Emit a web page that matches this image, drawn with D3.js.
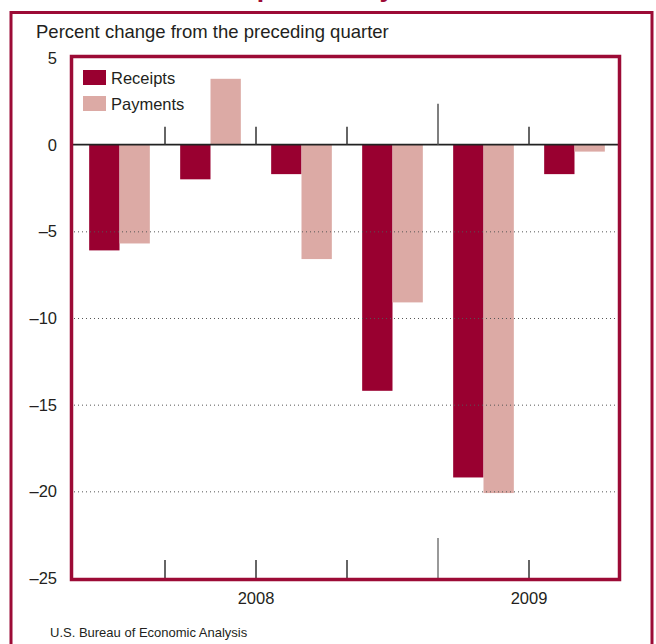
<!DOCTYPE html>
<html>
<head>
<meta charset="utf-8">
<script src="https://cdn.jsdelivr.net/npm/d3@7"></script>
<style>
  html, body { margin: 0; padding: 0; background: #fff; }
  svg { display: block; font-family: "Liberation Sans", Arial, Helvetica, sans-serif; }
</style>
</head>
<body>
<svg id="chart" width="656" height="644"></svg>
<script>
// Quarterly percent change in services receipts and payments
const quarters = ["2008 Q1", "2008 Q2", "2008 Q3", "2008 Q4", "2009 Q1", "2009 Q2"];
const seriesNames = ["Receipts", "Payments"];
const receipts = [-6.1, -2.0, -1.7, -14.2, -19.2, -1.7];
const payments = [-5.7, 3.8, -6.6, -9.1, -20.1, -0.4];
const yTicks = [5, 0, -5, -10, -15, -20, -25];
const years = [
  { label: "2008", first: "2008 Q1", last: "2008 Q4" },
  { label: "2009", first: "2009 Q1", last: "2009 Q2" }
];

const colors = { Receipts: "#990030", Payments: "#dcaaa5" };
const frameColor = "#9c0b36";
const svg = d3.select("#chart");

const plot = { left: 74, right: 620, top: 58, bottom: 578 };

const x = d3.scaleBand().domain(quarters).range([plot.left, plot.right]).paddingInner(0).paddingOuter(0);
const inner = d3.scaleBand().domain(seriesNames).range([0, x.bandwidth()]).paddingInner(0).paddingOuter(0.5);
const y = d3.scaleLinear().domain([-25, 5]).range([plot.bottom, plot.top]);

// Headline sits above the frame, only its descenders reach the page
const title = svg.append("text")
  .attr("x", 0).attr("y", 0)
  .attr("font-size", 24).attr("font-weight", "bold")
  .attr("fill", frameColor)
  .text("Services Trade Slumps Broadly");
{
  const node = title.node();
  const str = node.textContent;
  const ip = str.indexOf("p"), iy = str.lastIndexOf("y");
  const px = node.getExtentOfChar(ip), py = node.getExtentOfChar(iy);
  const d0 = (py.x + py.width / 2) - (px.x + px.width / 2);
  const fs = 24 * (387 - 265) / d0;
  title.attr("font-size", fs);
  const p2 = node.getExtentOfChar(ip);
  title.attr("x", 265 - (p2.x + p2.width / 2))
    .attr("y", 3 - 0.21 * fs);
}

// Outer frame
svg.append("rect")
  .attr("x", 11).attr("y", 12.5).attr("width", 641).attr("height", 660)
  .attr("fill", "none").attr("stroke", frameColor).attr("stroke-width", 3);

// Axis title
svg.append("text")
  .attr("x", 36).attr("y", 38)
  .attr("font-size", 18.5).attr("fill", "#231f20")
  .text("Percent change from the preceding quarter");

// Bars
const rows = quarters.map((q, i) => ({ q, Receipts: receipts[i], Payments: payments[i] }));
const groups = svg.append("g").selectAll("g").data(rows).join("g")
  .attr("transform", d => `translate(${x(d.q)},0)`);
groups.selectAll("rect")
  .data(d => seriesNames.map(k => ({ k, v: d[k] })))
  .join("rect")
  .attr("x", d => inner(d.k))
  .attr("width", inner.bandwidth())
  .attr("y", d => y(Math.max(0, d.v)))
  .attr("height", d => Math.abs(y(d.v) - y(0)))
  .attr("fill", d => colors[d.k]);

// Dotted gridlines
svg.append("g").selectAll("line")
  .data(yTicks.filter(t => t < 0 && t > -25))
  .join("line")
  .attr("x1", plot.left).attr("x2", plot.right - 2)
  .attr("y1", d => y(d) + 0.5).attr("y2", d => y(d) + 0.5)
  .attr("stroke", "#555").attr("stroke-width", 1)
  .attr("stroke-dasharray", "1,3");

// Zero line
svg.append("line")
  .attr("x1", plot.left - 2).attr("x2", plot.right)
  .attr("y1", y(0)).attr("y2", y(0))
  .attr("stroke", "#222").attr("stroke-width", 1.8);

// Quarter dividers (longer at the year boundary)
const boundaries = quarters.slice(1).map(q => ({ q, year: q.endsWith("Q1") }));
svg.append("g").selectAll("line")
  .data(boundaries).join("line")
  .attr("x1", d => x(d.q)).attr("x2", d => x(d.q))
  .attr("y1", d => y(0) - (d.year ? 41 : 18)).attr("y2", y(0))
  .attr("stroke", d => d.year ? "#555" : "#333").attr("stroke-width", 1.5);
svg.append("g").selectAll("line")
  .data(boundaries).join("line")
  .attr("x1", d => x(d.q)).attr("x2", d => x(d.q))
  .attr("y1", d => plot.bottom - (d.year ? 40 : 18)).attr("y2", plot.bottom)
  .attr("stroke", d => d.year ? "#777" : "#333").attr("stroke-width", 1.5);

// Plot frame
svg.append("rect")
  .attr("x", 71.5).attr("y", 56.5).attr("width", 548).attr("height", 523)
  .attr("fill", "none").attr("stroke", frameColor).attr("stroke-width", 3.5);

// Y axis labels
svg.append("g").selectAll("text")
  .data(yTicks).join("text")
  .attr("x", 57).attr("y", d => y(d) + 6)
  .attr("text-anchor", "end")
  .attr("font-size", 16.5).attr("fill", "#231f20")
  .text(d => d < 0 ? "\u2013" + Math.abs(d) : String(d));

// Year labels
svg.append("g").selectAll("text")
  .data(years).join("text")
  .attr("x", d => (x(d.first) + x(d.last) + x.bandwidth()) / 2)
  .attr("y", 604)
  .attr("text-anchor", "middle")
  .attr("font-size", 16.5).attr("fill", "#231f20")
  .text(d => d.label);

// Legend
const legend = svg.append("g").attr("transform", "translate(83,70)");
seriesNames.forEach((name, i) => {
  legend.append("rect")
    .attr("x", 0).attr("y", i * 26).attr("width", 23).attr("height", 15)
    .attr("fill", colors[name]);
  legend.append("text")
    .attr("x", 28).attr("y", i * 26 + 14)
    .attr("font-size", 16.5).attr("fill", "#231f20")
    .text(name);
});

// Source
svg.append("text")
  .attr("x", 50).attr("y", 637)
  .attr("font-size", 13).attr("fill", "#231f20")
  .text("U.S. Bureau of Economic Analysis");
</script>
</body>
</html>
